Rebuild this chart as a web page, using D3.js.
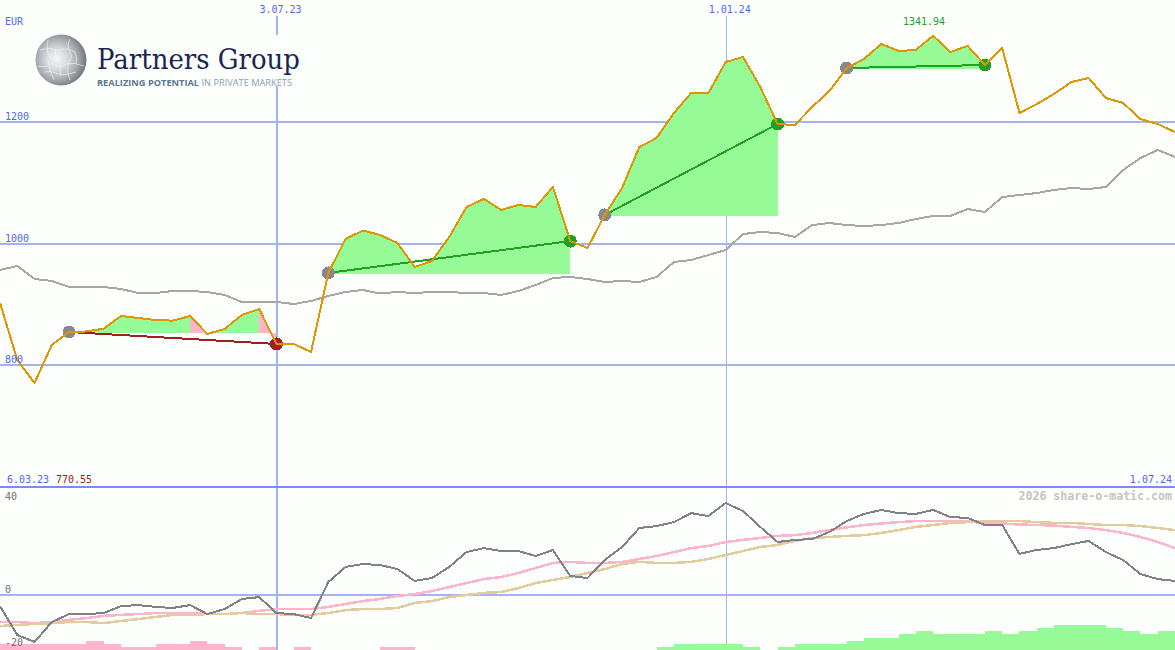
<!DOCTYPE html>
<html><head><meta charset="utf-8">
<script src="https://cdn.jsdelivr.net/npm/d3@7"></script>
<style>
html,body{margin:0;padding:0;background:#fdfffd;overflow:hidden}
svg{display:block}
text{font-family:"DejaVu Sans Mono",monospace;font-size:10px}
</style></head><body>
<svg id="c" width="1175" height="650"></svg>
<script>
const priceValues=[902.1,808.3,770.55,833,854.3,855.2,859.8,880.7,877.4,874.1,873,880.7,851,859.3,882.3,892.2,834.6,834.6,821.4,951.5,1007.4,1021.4,1014,1000.8,961.3,971.2,1010.7,1060.1,1073.3,1055.2,1063.4,1060.1,1093,1004,992.6,1047,1091.4,1158.8,1173.7,1214.8,1247.7,1247.7,1298.8,1307,1257.6,1196.7,1195,1224.7,1251,1288.9,1303.7,1328.4,1316.9,1318.5,1341.94,1315.2,1325.1,1293.8,1321.8,1214.8,1229.6,1246.1,1265.8,1272.4,1239.5,1231.3,1204.9,1196.7,1183.5];
const indexValues=[956.4,963,941.6,938.3,928.4,928.4,928.4,925.1,918.5,918.5,921.8,921.8,920.2,915.2,903.7,903.7,903.7,900.4,905.3,913.6,920.2,923.5,917.7,920.2,918.5,920.2,920.2,918.5,918.5,915.2,921.8,931.7,943.2,944.9,941.6,936.6,938.3,936.6,944.9,969.5,972.8,981.1,989.3,1015.6,1018.9,1017.3,1010.7,1030.4,1033.7,1030.4,1028.8,1030.4,1033.7,1040.3,1045.3,1045.3,1056.8,1051.8,1076.5,1079.8,1083.1,1088.1,1091.4,1089.7,1093,1121,1140.7,1153.9,1142.4];
const macdValues=[-4.2,-15.1,-17.7,-10.2,-7.2,-7.2,-6.8,-4.2,-3.8,-4.5,-4.9,-3.8,-7.2,-5.3,-1.5,-0.8,-6.8,-7.2,-8.7,4.9,10.6,11.7,11.3,9.8,5.3,6.4,10.6,16.2,17.7,16.6,16.6,14.7,17,7.2,6.4,13.2,18.1,25.3,26,27.5,30.9,29.8,34.7,31.7,25.7,20,20.8,21.1,23.8,27.9,30.6,32.1,30.9,30.6,32.1,29.4,29.1,26.4,26.4,15.5,17,17.7,19.2,20.4,16.2,13.2,7.9,6,5.3];
const signalValues=[-10.2,-10.2,-10.6,-10.2,-9.4,-8.7,-7.9,-7.5,-7.2,-6.8,-6.8,-6.8,-7.2,-7.2,-6.8,-6,-5.3,-5.3,-5.3,-4.5,-3.4,-2.3,-1.5,-0.4,0.4,1.5,3,4.5,6,6.8,8.3,10.2,12.1,12.5,12.1,12.1,12.5,13.6,14.7,16.2,17.7,18.5,20,20.8,21.5,22.3,22.6,23.4,24.5,25.5,26.4,27,27.5,27.9,27.9,27.9,27.7,27.2,27,26.6,26.4,26.2,25.7,25.3,24.5,23.4,21.9,20,17.7];
const slowValues=[-11.7,-11.3,-10.9,-10.6,-10.2,-10.2,-10.6,-9.8,-9.1,-8.3,-7.5,-7.5,-7.2,-7.2,-6.8,-7.2,-7.2,-7.5,-7.5,-6.8,-5.7,-5.3,-5.3,-4.9,-3,-2.3,-0.8,0,0.8,1.1,2.6,4.5,5.7,6.8,8.3,9.8,11.7,12.5,12.1,12.1,12.5,13.6,15.1,16.6,18.1,18.9,20.4,21.5,21.9,22.3,22.6,23.4,24.5,25.7,26.4,27.2,27.5,27.9,27.9,27.9,27.5,27.2,27.2,26.8,26.4,26.4,26,25.3,24.5];
const histValues=[-2,-2,-2,-2,-2,-3,-2,-1,-1,-2,-2,-3,-2,-1,0,-1,0,-1,0,0,0,0,-1,-1,0,0,0,0,0,0,0,0,0,0,0,0,0,0,1,2,2,2,2,1,0,1,2,2,2,3,4,4,5,6,5,5,5,6,5,6,7,8,8,8,7,6,5,6];
const trades=[[4,16],[19,33],[35,45],[49,57]];
const priceTicks=[1200,1000,800];
const macdTicks=[40,0,-20];
const dateTicks=[[16,"3.07.23"],[42,"1.01.24"]];
const firstDate="6.03.23",lastDate="1.07.24",minLabel="770.55",maxLabel="1341.94",unit="EUR",credit="2026 share-o-matic.com";

const W=1175,H=650;
const GRID="#a5b2f0",PANEL="#7a8cf0",LABEL="#5068f0",GREEN="#22a022",RED="#a02020",FILLG="#96fb96",FILLR="#ffb4cc";
const svg=d3.select("#c");
const n=priceValues.length;
const x=d3.scaleLinear().domain([0,n-1]).range([0,W]);
const y=d3.scaleLinear().domain([800,1200]).range([365,122]);
const ym=d3.scaleLinear().domain([-20,40]).range([648,489]);
const yh=d3.scaleLinear().domain([0,8]).range([650,625]);
const crisp="crispEdges";

svg.append("rect").attr("width",W).attr("height",H).attr("fill","#fdfffd");

// grid
priceTicks.forEach(t=>svg.append("line").attr("x1",0).attr("x2",W).attr("y1",y(t)).attr("y2",y(t)).attr("stroke",GRID).attr("stroke-width",2).attr("shape-rendering",crisp));
macdTicks.filter(t=>t===0).forEach(t=>svg.append("line").attr("x1",0).attr("x2",W).attr("y1",ym(t)).attr("y2",ym(t)).attr("stroke",GRID).attr("stroke-width",2).attr("shape-rendering",crisp));
dateTicks.forEach(([i],k)=>svg.append("line").attr("x1",Math.round(x(i))+(k===0?1:0)).attr("x2",Math.round(x(i))+(k===0?1:0)).attr("y1",16).attr("y2",H).attr("stroke",GRID).attr("stroke-width",k===0?2:1).attr("shape-rendering",crisp));
svg.append("line").attr("x1",0).attr("x2",W).attr("y1",487).attr("y2",487).attr("stroke",PANEL).attr("stroke-width",2).attr("shape-rendering",crisp);

// logo
const defs=svg.append("defs");
const g=defs.append("radialGradient").attr("id","ball").attr("cx","42%").attr("cy","48%").attr("r","58%");
[[0,"#f4f5f6"],[0.35,"#d8dbdd"],[0.7,"#a6abaf"],[1,"#6f767c"]].forEach(([o,c])=>g.append("stop").attr("offset",o).attr("stop-color",c));
const logo=svg.append("g");
logo.append("rect").attr("x",30).attr("y",35).attr("width",275).attr("height",51).attr("fill","#fdfffd");
logo.append("circle").attr("cx",61).attr("cy",60).attr("r",25.5).attr("fill","url(#ball)");
const puzzle=logo.append("g").attr("fill","none").attr("stroke","#f2f3f4").attr("stroke-width",0.7).attr("opacity",0.9);
["M40 50Q50 47 56 50Q53 54 57 55Q61 54 59 50Q66 47 75 52","M48 40Q46 50 49 56Q52 60 48 62Q50 72 54 80","M70 39Q66 46 70 52Q73 58 69 62Q66 70 70 80","M38 66Q46 68 50 64Q54 62 57 66Q61 69 66 64Q74 62 84 66","M56 50Q54 58 58 60Q62 62 60 66Q60 72 61 76","M75 52Q78 58 76 64","M44 72Q52 70 58 74Q66 76 76 72"].forEach(d=>puzzle.append("path").attr("d",d));
logo.append("text").text("Partners Group").attr("x",97).attr("y",69).attr("textLength",203).attr("lengthAdjust","spacingAndGlyphs").style("font-family","'DejaVu Serif',serif").style("font-size","28px").attr("fill","#1b2453");
const tag=logo.append("text").attr("x",97).attr("y",86).attr("textLength",195).attr("lengthAdjust","spacingAndGlyphs").style("font-family","'Open Sans',sans-serif").style("font-size","8.4px");
tag.append("tspan").text("REALIZING POTENTIAL").attr("font-weight","700").attr("fill","#5d7690");
tag.append("tspan").text(" IN PRIVATE MARKETS").attr("fill","#8b9db0");

// trade fills
const area=d3.area().x(d=>x(d.i)).y1(d=>y(d.v));
trades.forEach(([a,b])=>{
  const base=priceValues[a];
  for(let i=a;i<b;i++){
    const seg=[{i,v:priceValues[i]},{i:i+1,v:priceValues[i+1]}];
    const up=priceValues[i+1]>=base;
    svg.append("path").datum(seg).attr("d",area.y0(y(base)+0.8)).attr("fill",up?FILLG:FILLR).attr("shape-rendering",crisp);
  }
});

const line=(vals,sc)=>d3.line().x((d,i)=>x(i)).y(d=>sc(d))(vals);
const draw=(vals,sc,color,w)=>svg.append("path").attr("d",line(vals,sc)).attr("fill","none").attr("stroke",color).attr("stroke-width",w).attr("stroke-linejoin","round").attr("shape-rendering",crisp);

draw(indexValues,y,"#a6a6a6",2);

// trades
trades.forEach(([a,b])=>{
  const win=priceValues[b]>=priceValues[a];
  const c=win?GREEN:RED;
  svg.append("line").attr("x1",x(a)).attr("y1",y(priceValues[a])).attr("x2",x(b)).attr("y2",y(priceValues[b])).attr("stroke",c).attr("stroke-width",2).attr("shape-rendering",crisp);
  svg.append("circle").attr("cx",x(a)).attr("cy",y(priceValues[a])).attr("r",6.5).attr("fill","#888890").attr("shape-rendering",crisp);
  svg.append("circle").attr("cx",x(b)).attr("cy",y(priceValues[b])).attr("r",6.5).attr("fill",c).attr("shape-rendering",crisp);
});
draw(priceValues,y,"#dd9500",2);

// lower panel
histValues.forEach((v,i)=>{ if(!v) return;
  svg.append("rect").attr("x",x(i)).attr("width",x(i+1)-x(i)).attr("y",yh(Math.abs(v))).attr("height",H-yh(Math.abs(v))).attr("fill",v>0?FILLG:FILLR).attr("shape-rendering",crisp);
});
draw(signalValues,ym,"#ffb4cc",2.5);
draw(slowValues,ym,"#e2cb9c",2.5);
draw(macdValues,ym,"#808088",2);

// labels
const label=(s,px,py,c,anchor)=>svg.append("text").text(s).attr("x",px).attr("y",py+1).attr("fill",c).attr("text-anchor",anchor||"start").attr("dominant-baseline","middle");
label(unit,5,21,LABEL);
priceTicks.forEach(t=>label(t,5,y(t)-6,LABEL));
dateTicks.forEach(([i,s])=>label(s,x(i)+4,9,LABEL,"middle"));
label(firstDate,7,479,LABEL);
label(minLabel,56,479,RED);
label(lastDate,1172,479,LABEL,"end");
label(maxLabel,x(priceValues.indexOf(d3.max(priceValues)))-9,21,GREEN,"middle");
macdTicks.forEach(t=>label(t,5,t===40?496:ym(t)-6,"#707078"));
svg.append("text").text(credit).attr("x",1172).attr("y",496).attr("text-anchor","end").attr("dominant-baseline","middle").attr("fill","#c4c4c4").attr("font-weight","700").style("font-size","11.6px");
</script>
</body></html>
